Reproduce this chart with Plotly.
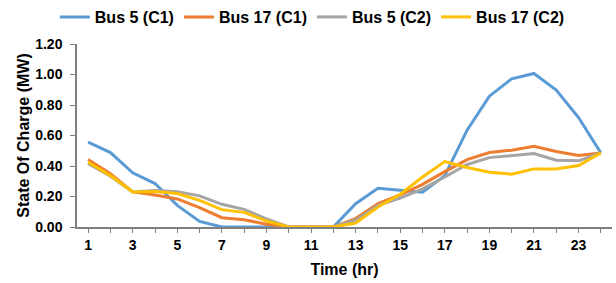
import plotly.graph_objects as go

hours = list(range(1, 25))
bus5_c1 = [0.556, 0.488, 0.355, 0.285, 0.142, 0.037, 0.0, 0.0, 0.0, 0.0, 0.0, 0.0,
           0.153, 0.254, 0.241, 0.228, 0.337, 0.635, 0.858, 0.972, 1.007, 0.898, 0.718, 0.486]
bus17_c1 = [0.442, 0.35, 0.23, 0.21, 0.184, 0.127, 0.061, 0.048, 0.018, 0.0, 0.0, 0.0,
            0.055, 0.153, 0.21, 0.28, 0.363, 0.442, 0.488, 0.504, 0.53, 0.495, 0.469, 0.486]
bus5_c2 = [0.415, 0.333, 0.23, 0.24, 0.232, 0.204, 0.149, 0.116, 0.053, 0.0, 0.0, 0.0,
           0.044, 0.142, 0.19, 0.25, 0.328, 0.41, 0.455, 0.469, 0.482, 0.438, 0.434, 0.486]
bus17_c2 = [0.425, 0.337, 0.23, 0.232, 0.219, 0.175, 0.114, 0.096, 0.039, 0.0, 0.0, 0.0,
            0.026, 0.131, 0.215, 0.328, 0.429, 0.39, 0.359, 0.346, 0.381, 0.381, 0.403, 0.486]

series = [
    ("Bus 5 (C1)", bus5_c1, "#5B9BD5"),
    ("Bus 17 (C1)", bus17_c1, "#ED7D31"),
    ("Bus 5 (C2)", bus5_c2, "#A5A5A5"),
    ("Bus 17 (C2)", bus17_c2, "#FFC000"),
]

x_tickvals = list(range(1, 24, 2))
y_tickvals = [0, 0.2, 0.4, 0.6, 0.8, 1.0, 1.2]

fig = go.Figure()
for name, vals, color in series:
    fig.add_trace(go.Scatter(x=hours, y=vals, name=name, mode="lines",
                             line=dict(color=color, width=3)))

FONT = "Liberation Sans, Arial"
fig.update_layout(
    width=616, height=283,
    margin=dict(l=77, r=4, t=44, b=56, autoexpand=False),
    paper_bgcolor="white", plot_bgcolor="white",
    font=dict(family=FONT, color="black"),
    legend=dict(orientation="h", x=0.507, xanchor="center",
                y=1 - 17 / 283, yanchor="middle",
                xref="container", yref="container",
                font=dict(size=16, family=FONT, weight="bold")),
    xaxis=dict(range=[0.5, 24.5], tickvals=x_tickvals, ticktext=[str(v) for v in x_tickvals],
               ticks="outside", ticklen=4, tickcolor="#7f7f7f",
               minor=dict(tick0=1, dtick=1, ticks="outside", ticklen=4, tickcolor="#7f7f7f"),
               showline=True, linecolor="#7f7f7f", linewidth=1.5, showgrid=False, zeroline=False,
               automargin=False,
               tickfont=dict(size=14, weight="bold"),
               title=dict(text="Time (hr)", font=dict(size=16, weight="bold"), standoff=12)),
    yaxis=dict(range=[0, 1.2], tickvals=y_tickvals, ticktext=[f"{v:.2f}" for v in y_tickvals],
               ticks="outside", ticklen=5, tickcolor="#7f7f7f", ticklabelstandoff=5,
               showline=True, linecolor="#7f7f7f", linewidth=1.5, showgrid=False, zeroline=False,
               automargin=False,
               tickfont=dict(size=14, weight="bold"),
               title=dict(text="State Of Charge (MW)", font=dict(size=16, weight="bold"), standoff=2)),
)

fig.write_html("out.html", config={"displayModeBar": False},
               post_script="document.body.style.margin='0';")
